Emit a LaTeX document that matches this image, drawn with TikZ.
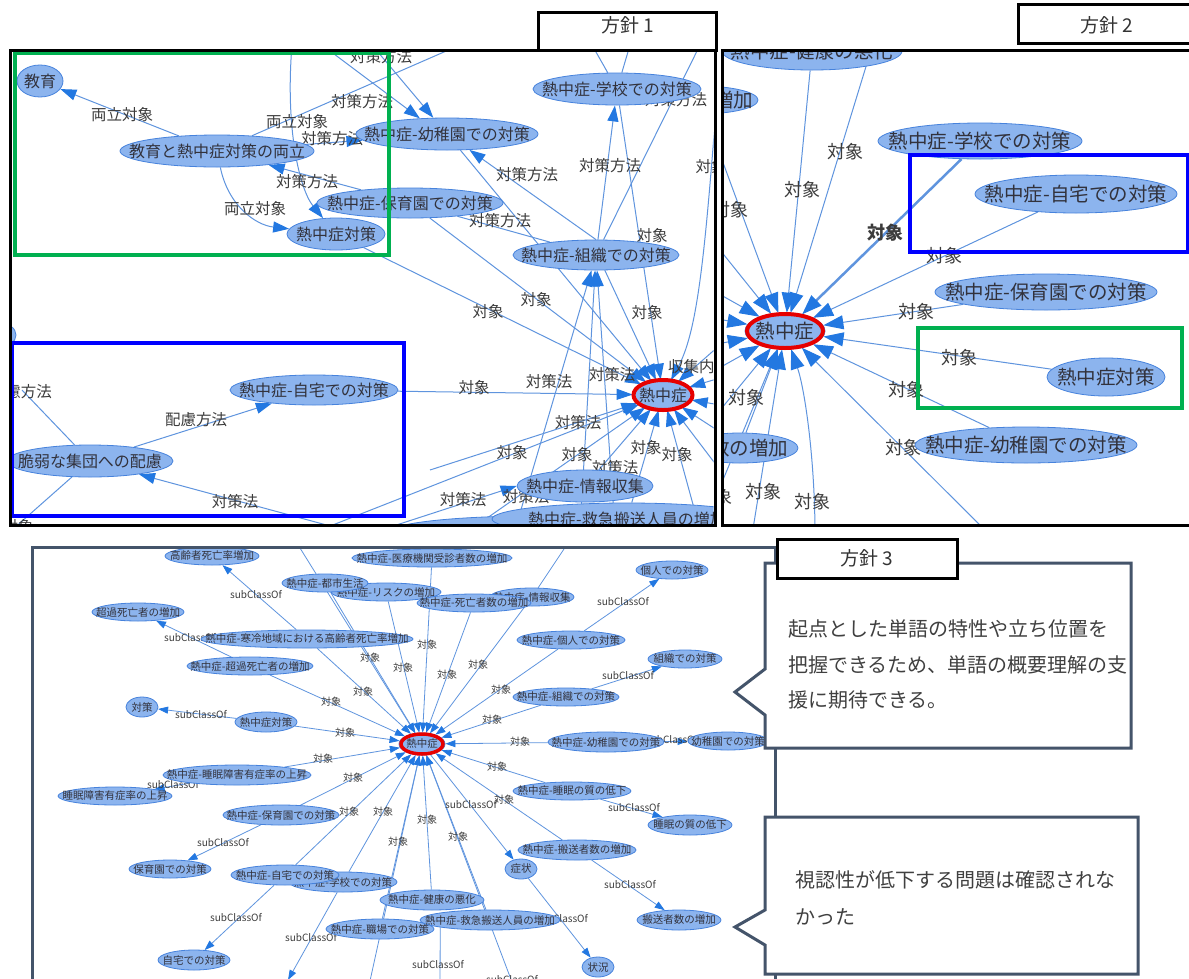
\documentclass[tikz,border=0pt]{standalone}
\usepackage{fontspec}
\setmainfont{Noto Sans CJK JP}
\usetikzlibrary{shapes.geometric,arrows.meta,backgrounds,calc}
\definecolor{nfill}{RGB}{140,180,238}
\definecolor{nborder}{RGB}{70,130,220}
\definecolor{eblue}{RGB}{95,148,222}
\definecolor{ablue}{RGB}{35,120,225}
\definecolor{tgray}{RGB}{50,50,60}
\definecolor{lgray}{RGB}{60,60,60}
\definecolor{slate}{RGB}{68,84,106}
\definecolor{gboxc}{RGB}{0,176,80}
\definecolor{bboxc}{RGB}{0,0,255}
\definecolor{rringc}{RGB}{230,0,0}
\definecolor{ctext}{RGB}{64,64,64}
\tikzset{
 gnd/.style={ellipse, draw=nborder, fill=nfill, inner sep=0pt, line width=0.8pt},
 t1/.style={font=\fontsize{16}{16}\selectfont, text=tgray, inner sep=0pt},
 t2/.style={font=\fontsize{19.5}{19.5}\selectfont, text=tgray, inner sep=0pt},
 t3/.style={font=\fontsize{10.5}{10.5}\selectfont, text=tgray, inner sep=0pt},
 l1/.style={font=\fontsize{15.5}{15.5}\selectfont, text=lgray, inner sep=0pt},
 l2/.style={font=\fontsize{18}{18}\selectfont, text=lgray, inner sep=0pt},
 l3/.style={font=\fontsize{10}{10}\selectfont, text=lgray, inner sep=0pt},
 ed/.style={draw=eblue, line width=1pt},
 a1/.style={ed, -{Triangle[length=16pt,width=11pt,color=ablue]}},
 a2/.style={ed, -{Triangle[length=20pt,width=14pt,color=ablue]}},
 e3/.style={draw=eblue, line width=0.8pt},
 a3/.style={e3, -{Triangle[length=10pt,width=7pt,color=ablue]}},
 redring/.style={ellipse, draw=rringc, line width=4pt, inner sep=0pt},
 pframe/.style={draw=black, line width=3pt},
 tbox/.style={draw=black, line width=3pt, fill=white},
 ttext/.style={font=\fontsize{19}{19}\selectfont, text=black!80, inner sep=0pt},
 cbox/.style={draw=slate, line width=3pt, fill=white, line join=miter},
 ctxt/.style={font=\fontsize{20}{20}\selectfont, text=ctext, anchor=west, inner sep=0pt},
 gbx/.style={draw=gboxc, line width=4pt},
 bbx/.style={draw=bboxc, line width=4pt},
}
\newcommand{\gn}[6]{\node[gnd, minimum width=#4pt, minimum height=#5pt, label={[#1]center:#6}] (#2) at (#3) {};}
\newcommand{\lb}[4]{\node[#1] (#2) at (#3) {#4};}
\begin{document}
\begin{tikzpicture}[x=1pt,y=-1pt]
\useasboundingbox (0,0) rectangle (1189,978);
\begin{pgfonlayer}{background}
\fill[white] (0,0) rectangle (1189,978);
\end{pgfonlayer}

%================ PANEL 1 nodes
\begin{scope}
\clip (11.5,51.5) rectangle (713.5,523.5);
\node[gnd, minimum width=32pt, minimum height=24pt] (p1edgeL) at (0,335) {};
\gn{t1}{p1edu}{40,81}{46}{32}{教育}
\gn{t1}{p1both}{217,151}{194}{32}{教育と熱中症対策の両立}
\gn{t1}{p1hoiku}{410,203}{186}{30}{熱中症-保育園での対策}
\gn{t1}{p1hs}{336,234}{98}{32}{熱中症対策}
\gn{t1}{p1yochi}{447,134}{182}{32}{熱中症-幼稚園での対策}
\gn{t1}{p1school}{617,89}{168}{32}{熱中症-学校での対策}
\gn{t1}{p1sosh}{596,255}{166}{30}{熱中症-組織での対策}
\gn{t1}{p1home}{314,390}{168}{30}{熱中症-自宅での対策}
\gn{t1}{p1vuln}{90,461}{166}{32}{脆弱な集団への配慮}
\gn{t1}{p1iryo}{535,532}{290}{32}{熱中症-医療機関受診者数の増加}
\gn{t1}{p1kyu}{627,519}{270}{32}{熱中症-救急搬送人員の増加}
\gn{t1}{p1info}{585,486}{136}{32}{熱中症-情報収集}
\gn{t1}{p1N}{663,395}{60}{30}{熱中症}
\node[redring, minimum width=59pt, minimum height=30pt] (p1ring) at (663,395) {};
\end{scope}

\begin{pgfonlayer}{background}
\begin{scope}
\clip (11.5,51.5) rectangle (713.5,523.5);
\draw[a1] (p1both) -- (p1edu);
\draw[a1] (p1both) .. controls (228,205) and (255,225) .. (p1hs);
\draw[a1] (p1hoiku) -- (p1both);
\draw[a1] (p1both) -- (p1yochi);
\coordinate (c1t8) at (460,45);
\draw[ed] (p1both) -- (c1t8);
\coordinate (c1t1) at (292,45);
\draw[a1] (c1t1) .. controls (285,130) and (300,190) .. (p1hs);
\coordinate (c1t2) at (322,45);
\draw[a1] (c1t2) -- (p1yochi.150);
\coordinate (c1t3) at (372,45);
\draw[a1] (c1t3) -- (p1yochi);
\draw[a1] (p1sosh.north) -- (p1yochi);
\draw[a1] (p1sosh) -- (p1school);
\draw[ed] (p1hoiku) -- (p1sosh);
\draw[a1] (p1school) -- (p1N);
\coordinate (c1t4) at (700,45);
\draw[ed] (p1sosh) -- (c1t4);
\coordinate (c1t5) at (592,45);
\draw[ed] (c1t5) -- (p1school);
\coordinate (c1t6) at (630,45);
\draw[ed] (c1t6) -- (p1school);
\coordinate (c1t7) at (716,110);
\draw[a1] (c1t7) .. controls (705,250) and (698,330) .. (p1N);
\draw[a1] (p1hs) -- (p1N);
\draw[a1] (p1hoiku) -- (p1N);
\draw[a1] (p1home) -- (p1N);
\draw[a1] (p1vuln) -- (p1home);
\coordinate (c1b1) at (345,530);
\draw[a1] (c1b1) -- (p1vuln);
\coordinate (c1l1) at (22,390);
\draw[ed] (p1vuln) -- (c1l1);
\coordinate (c1l2) at (12,530);
\draw[ed] (p1vuln) -- (c1l2);
\draw[a1] (p1sosh.-60) -- (p1N);
\draw[a1] (p1yochi) -- (p1N);
\coordinate (c1m1) at (430,470);
\draw[a1] (c1m1) -- (p1N);
\coordinate (c1b2) at (320,530);
\draw[a1] (c1b2) -- (p1N);
\coordinate (c1b3) at (470,530);
\draw[a1] (c1b3) -- (p1N);
\draw[a1] (p1kyu) -- (p1N);
\coordinate (c1b4) at (700,530);
\draw[a1] (c1b4) -- (p1N);
\draw[a1] (p1info) -- (p1N);
\coordinate (c1b5) at (381,530);
\draw[a1] (c1b5) -- (p1info.west);
\coordinate (c1b6) at (515,530);
\draw[a1] (c1b6) -- (p1sosh);
\coordinate (c1b7) at (580,530);
\draw[a1] (c1b7) -- (p1sosh);
\coordinate (c1b8) at (615,530);
\draw[a1] (c1b8) -- (p1sosh);
\foreach \yy [count=\i] in {345,378,405,432,470} {
  \coordinate (c1r\i) at (720,\yy);
  \draw[a1] (c1r\i) -- (p1N);
}
\lb{l1}{q101}{122,115}{両立対象}
\lb{l1}{q102}{297,122}{両立対象}
\lb{l1}{q103}{332,139}{対策方法}
\lb{l1}{q104}{307,182}{対策方法}
\lb{l1}{q105}{255,209}{両立対象}
\lb{l1}{q106}{362,102}{対策方法}
\lb{l1}{q107}{381,57}{対策方法}
\lb{l1}{q108}{527,175}{対策方法}
\lb{l1}{q109}{610,166}{対策方法}
\lb{l1}{q110}{500,221}{対策方法}
\lb{l1}{q111}{652,236}{対象}
\lb{l1}{q112}{711,167}{対象}
\lb{l1}{q113}{676,100}{対策方法}
\lb{l1}{q114}{536,300}{対象}
\lb{l1}{q115}{488,312}{対象}
\lb{l1}{q116}{647,313}{対象}
\lb{l1}{q117}{699,367}{収集内容}
\lb{l1}{q118}{612,375}{対策法}
\lb{l1}{q119}{474,388}{対象}
\lb{l1}{q120}{549,382}{対策法}
\lb{l1}{q121}{578,423}{対策法}
\lb{l1}{q122}{512,453}{対象}
\lb{l1}{q123}{577,455}{対象}
\lb{l1}{q124}{646,448}{対象}
\lb{l1}{q125}{677,455}{対象}
\lb{l1}{q126}{615,468}{対策法}
\lb{l1}{q127}{463,500}{対策法}
\lb{l1}{q128}{526,497}{対策法}
\lb{l1}{q129}{235,502}{対策法}
\lb{l1}{q130}{196,420}{配慮方法}
\lb{l1}{q131}{21,392}{配慮方法}
\lb{l1}{q132}{18,527}{対象}
\end{scope}
\end{pgfonlayer}

%================ PANEL 2 nodes
\begin{scope}
\clip (723.5,51.5) rectangle (1189,523.5);
\gn{t2}{p2health}{812,51}{180}{38}{熱中症-健康の悪化}
\node[gnd, minimum width=116pt, minimum height=28pt, label={[t2,xshift=14pt]center:数の増加}] (p2inc1) at (700,100) {};
\gn{t2}{p2school}{980,141}{204}{36}{熱中症-学校での対策}
\gn{t2}{p2home}{1076,194}{202}{38}{熱中症-自宅での対策}
\gn{t2}{p2hoiku}{1046,292}{222}{36}{熱中症-保育園での対策}
\gn{t2}{p2hs}{1106,377}{118}{38}{熱中症対策}
\gn{t2}{p2yochi}{1026,445}{222}{36}{熱中症-幼稚園での対策}
\node[gnd, minimum width=116pt, minimum height=30pt, label={[t2,xshift=9pt]center:数の増加}] (p2inc2) at (740,448) {};
\gn{t2}{p2N}{785,331}{80}{36}{熱中症}
\node[redring, minimum width=76pt, minimum height=34pt] (p2ring) at (785,331) {};
\end{scope}

\begin{pgfonlayer}{background}
\begin{scope}
\clip (723.5,51.5) rectangle (1189,523.5);
\draw[a2] (p2health) -- (p2N);
\coordinate (c2h2) at (868,60);
\draw[a2] (c2h2) -- (p2N);
\draw[a2] (p2inc1) -- (p2N);
\draw[a2, line width=2.5pt] (p2school) -- (p2N);
\draw[a2] (p2home) -- (p2N);
\draw[a2] (p2hoiku) -- (p2N);
\draw[a2] (p2hs) -- (p2N);
\draw[a2] (p2yochi) -- (p2N);
\coordinate (c2b1) at (990,535);
\draw[a2] (c2b1) -- (p2N);
\draw[a2] (p2inc2) -- (p2N);
\coordinate (c2b2) at (752,535);
\draw[a2] (c2b2) -- (p2N);
\coordinate (c2b3) at (815,535);
\draw[a2] (c2b3) .. controls (815,460) and (805,390) .. (p2N);
\coordinate (c2b4) at (700,535);
\draw[a2] (c2b4) -- (p2N);
\foreach \yy [count=\i] in {240,290,318,345,372,420} {
  \coordinate (c2l\i) at (712,\yy);
  \draw[a2] (c2l\i) -- (p2N);
}
\lb{l2}{q201}{845,152}{対象}
\lb{l2}{q202}{802,190}{対象}
\lb{l2}{q203}{730,210}{対象}
\node[l2, font=\fontsize{18}{18}\selectfont\bfseries] (q204) at (885,233) {対象};
\lb{l2}{q205}{944,256}{対象}
\lb{l2}{q206}{916,312}{対象}
\lb{l2}{q207}{959,358}{対象}
\lb{l2}{q208}{906,390}{対象}
\lb{l2}{q209}{746,398}{対象}
\lb{l2}{q210}{903,448}{対象}
\lb{l2}{q211}{763,492}{対象}
\lb{l2}{q212}{812,502}{対象}
\lb{l2}{q213}{714,497}{対象}
\end{scope}
\end{pgfonlayer}

%================ PANEL 3 nodes
\begin{scope}
\clip (33.5,548.5) rectangle (773.5,978);
\gn{t3}{p3old}{212,556}{94}{18}{高齢者死亡率増加}
\gn{t3}{p3iryo}{432,558}{160}{18}{熱中症-医療機関受診者数の増加}
\gn{t3}{p3risk}{386,592}{110}{18}{熱中症-リスクの増加}
\gn{t3}{p3city}{325,583}{86}{18}{熱中症-都市生活}
\gn{t3}{p3info}{532,597}{84}{18}{熱中症-情報収集}
\gn{t3}{p3death}{474,603}{114}{18}{熱中症-死亡者数の増加}
\gn{t3}{p3kojin}{672,570}{72}{18}{個人での対策}
\gn{t3}{p3hkojin}{571,640}{108}{18}{熱中症-個人での対策}
\gn{t3}{p3sosh}{685,659}{74}{18}{組織での対策}
\gn{t3}{p3hsosh}{566,697}{106}{18}{熱中症-組織での対策}
\gn{t3}{p3hyochi}{606,742}{116}{20}{熱中症-幼稚園での対策}
\gn{t3}{p3yochi}{728,741}{80}{18}{幼稚園での対策}
\gn{t3}{p3excess}{138,612}{92}{18}{超過死亡者の増加}
\gn{t3}{p3cold}{307,639}{212}{18}{熱中症-寒冷地域における高齢者死亡率増加}
\gn{t3}{p3hexcess}{250,666}{126}{18}{熱中症-超過死亡者の増加}
\gn{t3}{p3taisaku}{142,707}{32}{20}{対策}
\gn{t3}{p3hs}{266,722}{62}{20}{熱中症対策}
\gn{t3}{p3hsleep}{237,775}{148}{20}{熱中症-睡眠障害有症率の上昇}
\gn{t3}{p3sleep}{115,796}{114}{18}{睡眠障害有症率の上昇}
\gn{t3}{p3hhoiku}{281,815}{116}{20}{熱中症-保育園での対策}
\gn{t3}{p3hoiku}{170,869}{82}{18}{保育園での対策}
\gn{t3}{p3hschool}{343,882}{108}{20}{熱中症-学校での対策}
\gn{t3}{p3hhome}{285,875}{108}{20}{熱中症-自宅での対策}
\gn{t3}{p3home}{194,960}{72}{20}{自宅での対策}
\gn{t3}{p3hwork}{380,929}{108}{20}{熱中症-職場での対策}
\gn{t3}{p3hhealth}{432,900}{104}{20}{熱中症-健康の悪化}
\gn{t3}{p3hkyu}{490,920}{140}{20}{熱中症-救急搬送人員の増加}
\gn{t3}{p3hsq}{572,791}{118}{18}{熱中症-睡眠の質の低下}
\gn{t3}{p3sq}{690,825}{84}{20}{睡眠の質の低下}
\gn{t3}{p3htrans}{577,850}{118}{20}{熱中症-搬送者数の増加}
\gn{t3}{p3symp}{521,869}{32}{20}{症状}
\gn{t3}{p3trans}{679,920}{84}{20}{搬送者数の増加}
\gn{t3}{p3status}{598,967}{32}{20}{状況}
\gn{t3}{p3N}{422,744}{46}{22}{熱中症}
\node[redring, line width=3.5pt, minimum width=42pt, minimum height=20pt] (p3ring) at (422,744) {};
\end{scope}

\begin{pgfonlayer}{background}
\begin{scope}
\clip (33.5,548.5) rectangle (773.5,978);
\foreach \nn in {p3iryo,p3city,p3risk,p3death,p3info,p3cold,p3hexcess,p3hs,p3hsleep,p3hhoiku,p3hhome,p3hschool,p3hwork,p3hhealth,p3hkyu,p3hsq,p3htrans,p3hyochi,p3hsosh,p3hkojin} {
  \draw[a3] (\nn) -- (p3N);
}
\coordinate (c3t1) at (295,540);
\draw[a3] (c3t1) -- (p3N);
\coordinate (c3t2) at (570,540);
\draw[e3] (c3t2) -- (p3info);
\coordinate (c3b1) at (515,990);
\draw[a3] (c3b1) -- (p3N);
\coordinate (c3b2) at (368,990);
\draw[a3] (c3b2) -- (p3N);
\draw[a3] (p3cold) -- (p3old);
\draw[a3] (p3hexcess) -- (p3excess);
\draw[a3] (p3hs) -- (p3taisaku);
\draw[a3] (p3hsleep) -- (p3sleep);
\draw[a3] (p3hhoiku) -- (p3hoiku);
\draw[a3] (p3hhome) -- (p3home);
\coordinate (c3b3) at (288,980);
\draw[a3] (p3hschool) -- (c3b3);
\draw[a3] (p3hkojin) -- (p3kojin);
\draw[a3] (p3hsosh) -- (p3sosh);
\draw[a3] (p3hyochi) -- (p3yochi);
\draw[a3] (p3hsq) -- (p3sq);
\draw[a3] (p3htrans) -- (p3trans);
\draw[a3] (p3symp) -- (p3status);
\draw[a3] (p3N) -- (p3symp);
\coordinate (c3b4) at (440,995);
\draw[a3] (p3hkyu.south west) -- (c3b4);
\lb{l3}{q301}{256,595}{subClassOf}
\lb{l3}{q302}{190,638}{subClassOf}
\lb{l3}{q303}{370,658}{対象}
\lb{l3}{q304}{403,668}{対象}
\lb{l3}{q305}{363,692}{対象}
\lb{l3}{q306}{331,702}{対象}
\lb{l3}{q307}{201,715}{subClassOf}
\lb{l3}{q308}{345,733}{対象}
\lb{l3}{q309}{323,759}{対象}
\lb{l3}{q310}{623,602}{subClassOf}
\lb{l3}{q311}{427,645}{対象}
\lb{l3}{q312}{447,675}{対象}
\lb{l3}{q313}{478,665}{対象}
\lb{l3}{q314}{501,690}{対象}
\lb{l3}{q315}{628,676}{subClassOf}
\lb{l3}{q316}{492,720}{対象}
\lb{l3}{q317}{520,742}{対象}
\lb{l3}{q318}{672,740}{subClassOf}
\lb{l3}{q319}{173,785}{subClassOf}
\lb{l3}{q320}{353,778}{対象}
\lb{l3}{q321}{349,812}{対象}
\lb{l3}{q322}{383,812}{対象}
\lb{l3}{q323}{398,842}{対象}
\lb{l3}{q324}{223,843}{subClassOf}
\lb{l3}{q325}{236,918}{subClassOf}
\lb{l3}{q326}{311,938}{subClassOf}
\lb{l3}{q327}{497,767}{対象}
\lb{l3}{q328}{471,805}{subClassOf}
\lb{l3}{q329}{504,800}{対象}
\lb{l3}{q330}{427,820}{対象}
\lb{l3}{q331}{458,837}{対象}
\lb{l3}{q332}{634,808}{subClassOf}
\lb{l3}{q333}{630,885}{subClassOf}
\lb{l3}{q334}{562,919}{subClassOf}
\lb{l3}{q335}{438,965}{subClassOf}
\lb{l3}{q336}{512,980}{subClassOf}
\end{scope}
\end{pgfonlayer}

%================ highlight rectangles
\draw[gbx] (15,53) rectangle (389,255);
\draw[bbx] (12,343) rectangle (404,516);
\draw[bbx] (910,155) rectangle (1188,252);
\draw[gbx] (918,328) rectangle (1182,408);

%================ frames
\draw[pframe] (10,50) rectangle (715,525);
\draw[pframe] (722,50) rectangle (1200,525);
\draw[draw=slate, line width=3pt] (32,547) rectangle (775,995);

%================ titles
\draw[tbox] (538,12) rectangle (716,50);
\node[ttext] (tt1) at (628,25) {方針 1};
\draw[tbox] (1018,4) rectangle (1200,43);
\node[ttext] (tt2) at (1107,25) {方針 2};

%================ callouts
\draw[cbox] (765,563) -- (1131,563) -- (1131,748) -- (765,748) -- (765,715) -- (735,692) -- (765,669) -- cycle;
\draw[cbox] (765,817) -- (1138,817) -- (1138,974) -- (765,974) -- (765,945) -- (735,927) -- (765,910) -- cycle;
\draw[tbox] (777,539) rectangle (957,578);
\node[ttext] (tt3) at (867,558) {方針 3};
\node[ctxt] (ct1) at (788,629) {起点とした単語の特性や立ち位置を};
\node[ctxt] (ct2) at (788,665) {把握できるため、単語の概要理解の支};
\node[ctxt] (ct3) at (788,700) {援に期待できる。};
\node[ctxt] (ct4) at (795,880) {視認性が低下する問題は確認されな};
\node[ctxt] (ct5) at (795,917) {かった};
\end{tikzpicture}
\end{document}
